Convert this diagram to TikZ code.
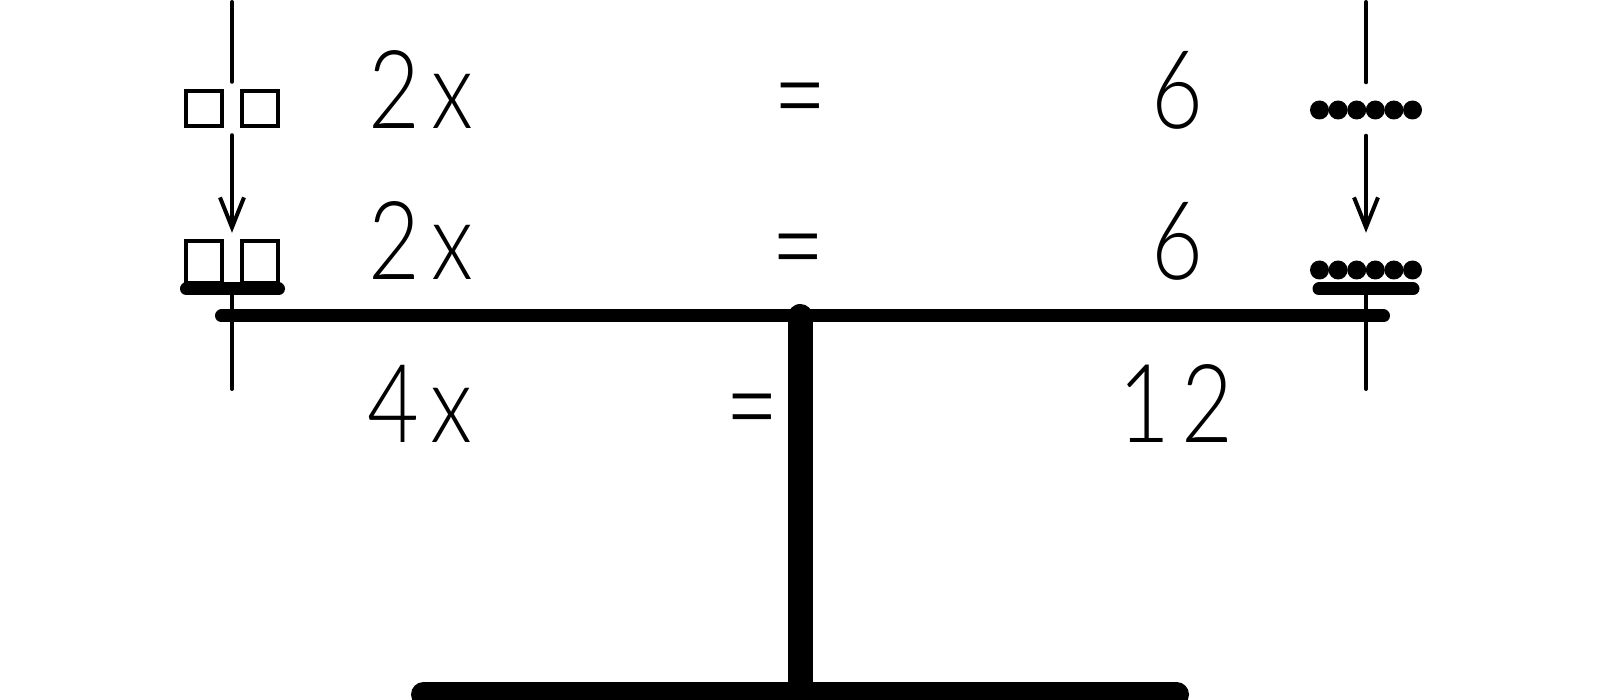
\documentclass[tikz,border=0pt]{standalone}
\usepackage{fontspec}
\setmainfont{Lato Light}[FakeStretch=0.82]
\usetikzlibrary{arrows.meta}
\begin{document}
\begin{tikzpicture}[x=1pt,y=-1pt,
  thinline/.style={line width=4pt,line cap=round},
  sqbox/.style={draw,line width=4pt,minimum width=36pt,minimum height=35pt,inner sep=0pt},
  bead/.style={circle,fill,minimum size=19pt,inner sep=0pt},
  ghost/.style={inner sep=0pt,minimum width=110pt},
  panline/.style={line width=13pt,line cap=round},
  postline/.style={line width=25pt,line cap=round},
  drop/.style={line width=4pt,line cap=round,-{Straight Barb[length=30pt,width=24pt,line width=4pt]}},
  txt/.style={font=\fontsize{109}{120}\selectfont\addfontfeatures{LetterSpace=10},anchor=base,inner sep=0pt},
  eqs/.style={font=\fontsize{98}{100}\selectfont,anchor=base,inner sep=0pt},
]
\useasboundingbox (0,0) rectangle (1600,700);
% ---------- left column ----------
\coordinate (Ltop) at (232,2);
\node[ghost,minimum height=53pt] (L1) at (232,108.5) {};
\node[sqbox] (L1a) at (204,108.5) {};
\node[sqbox] (L1b) at (260,108.5) {};
\node[ghost,minimum height=50pt] (L2) at (232,258) {};
\node[sqbox,minimum height=42pt] (L2a) at (204,262) {};
\node[sqbox,minimum height=42pt] (L2b) at (260,262) {};
\coordinate (Lpan1) at (186.5,289);
\coordinate (Lpan2) at (278.5,289);
\coordinate (Lhang) at (232,289);
\coordinate (Lbot) at (232,389);
\draw[thinline] (Ltop) -- (L1.north);
\draw[drop] (L1.south) -- (L2.north);
\draw[panline] (Lpan1) -- (Lpan2);
\draw[thinline] (Lhang) -- (Lbot);
% ---------- right column ----------
\coordinate (Rtop) at (1366,2);
\node[ghost,minimum height=53pt] (R1) at (1366,109) {};
\foreach \i in {0,...,5} {
  \node[bead] (R1d\i) at (1319.5+18.6*\i,110) {};
  \node[bead] (R2d\i) at (1319.5+18.6*\i,270) {};
}
\node[ghost,minimum height=50pt] (R2) at (1366,258) {};
\coordinate (Rpan1) at (1319,289);
\coordinate (Rpan2) at (1413,289);
\coordinate (Rhang) at (1366,289);
\coordinate (Rbot) at (1366,389);
\draw[thinline] (Rtop) -- (R1.north);
\draw[drop] (R1.south) -- (R2.north);
\draw[panline] (Rpan1) -- (Rpan2);
\draw[thinline] (Rhang) -- (Rbot);
% ---------- beam, post, base ----------
\coordinate (B1) at (221.5,316);
\coordinate (B2) at (1383.5,316);
\coordinate (Ptop) at (800,316.5);
\coordinate (Pbot) at (800,694);
\coordinate (Base1) at (423.5,694.5);
\coordinate (Base2) at (1176.5,694.5);
\draw[panline] (B1) -- (B2);
\draw[postline] (Ptop) -- (Pbot);
\draw[postline] (Base1) -- (Base2);
% ---------- texts ----------
\node[txt] (x1) at (421,129) {2x};
\node[txt] (x2) at (421,280) {2x};
\node[txt] (x3) at (420,442) {4x};
\node[eqs] (e1) at (800,141) {\scalebox{1.15}[1.35]{=}};
\node[eqs] (e2) at (798.5,291.5) {\scalebox{1.15}[1.35]{=}};
\node[eqs] (e3) at (752,451.5) {\scalebox{1.15}[1.35]{=}};
\node[txt] (n1) at (1177,129) {6};
\node[txt] (n2) at (1177,280) {6};
\node[txt] (n3) at (1176,442) {12};
\end{tikzpicture}
\end{document}
